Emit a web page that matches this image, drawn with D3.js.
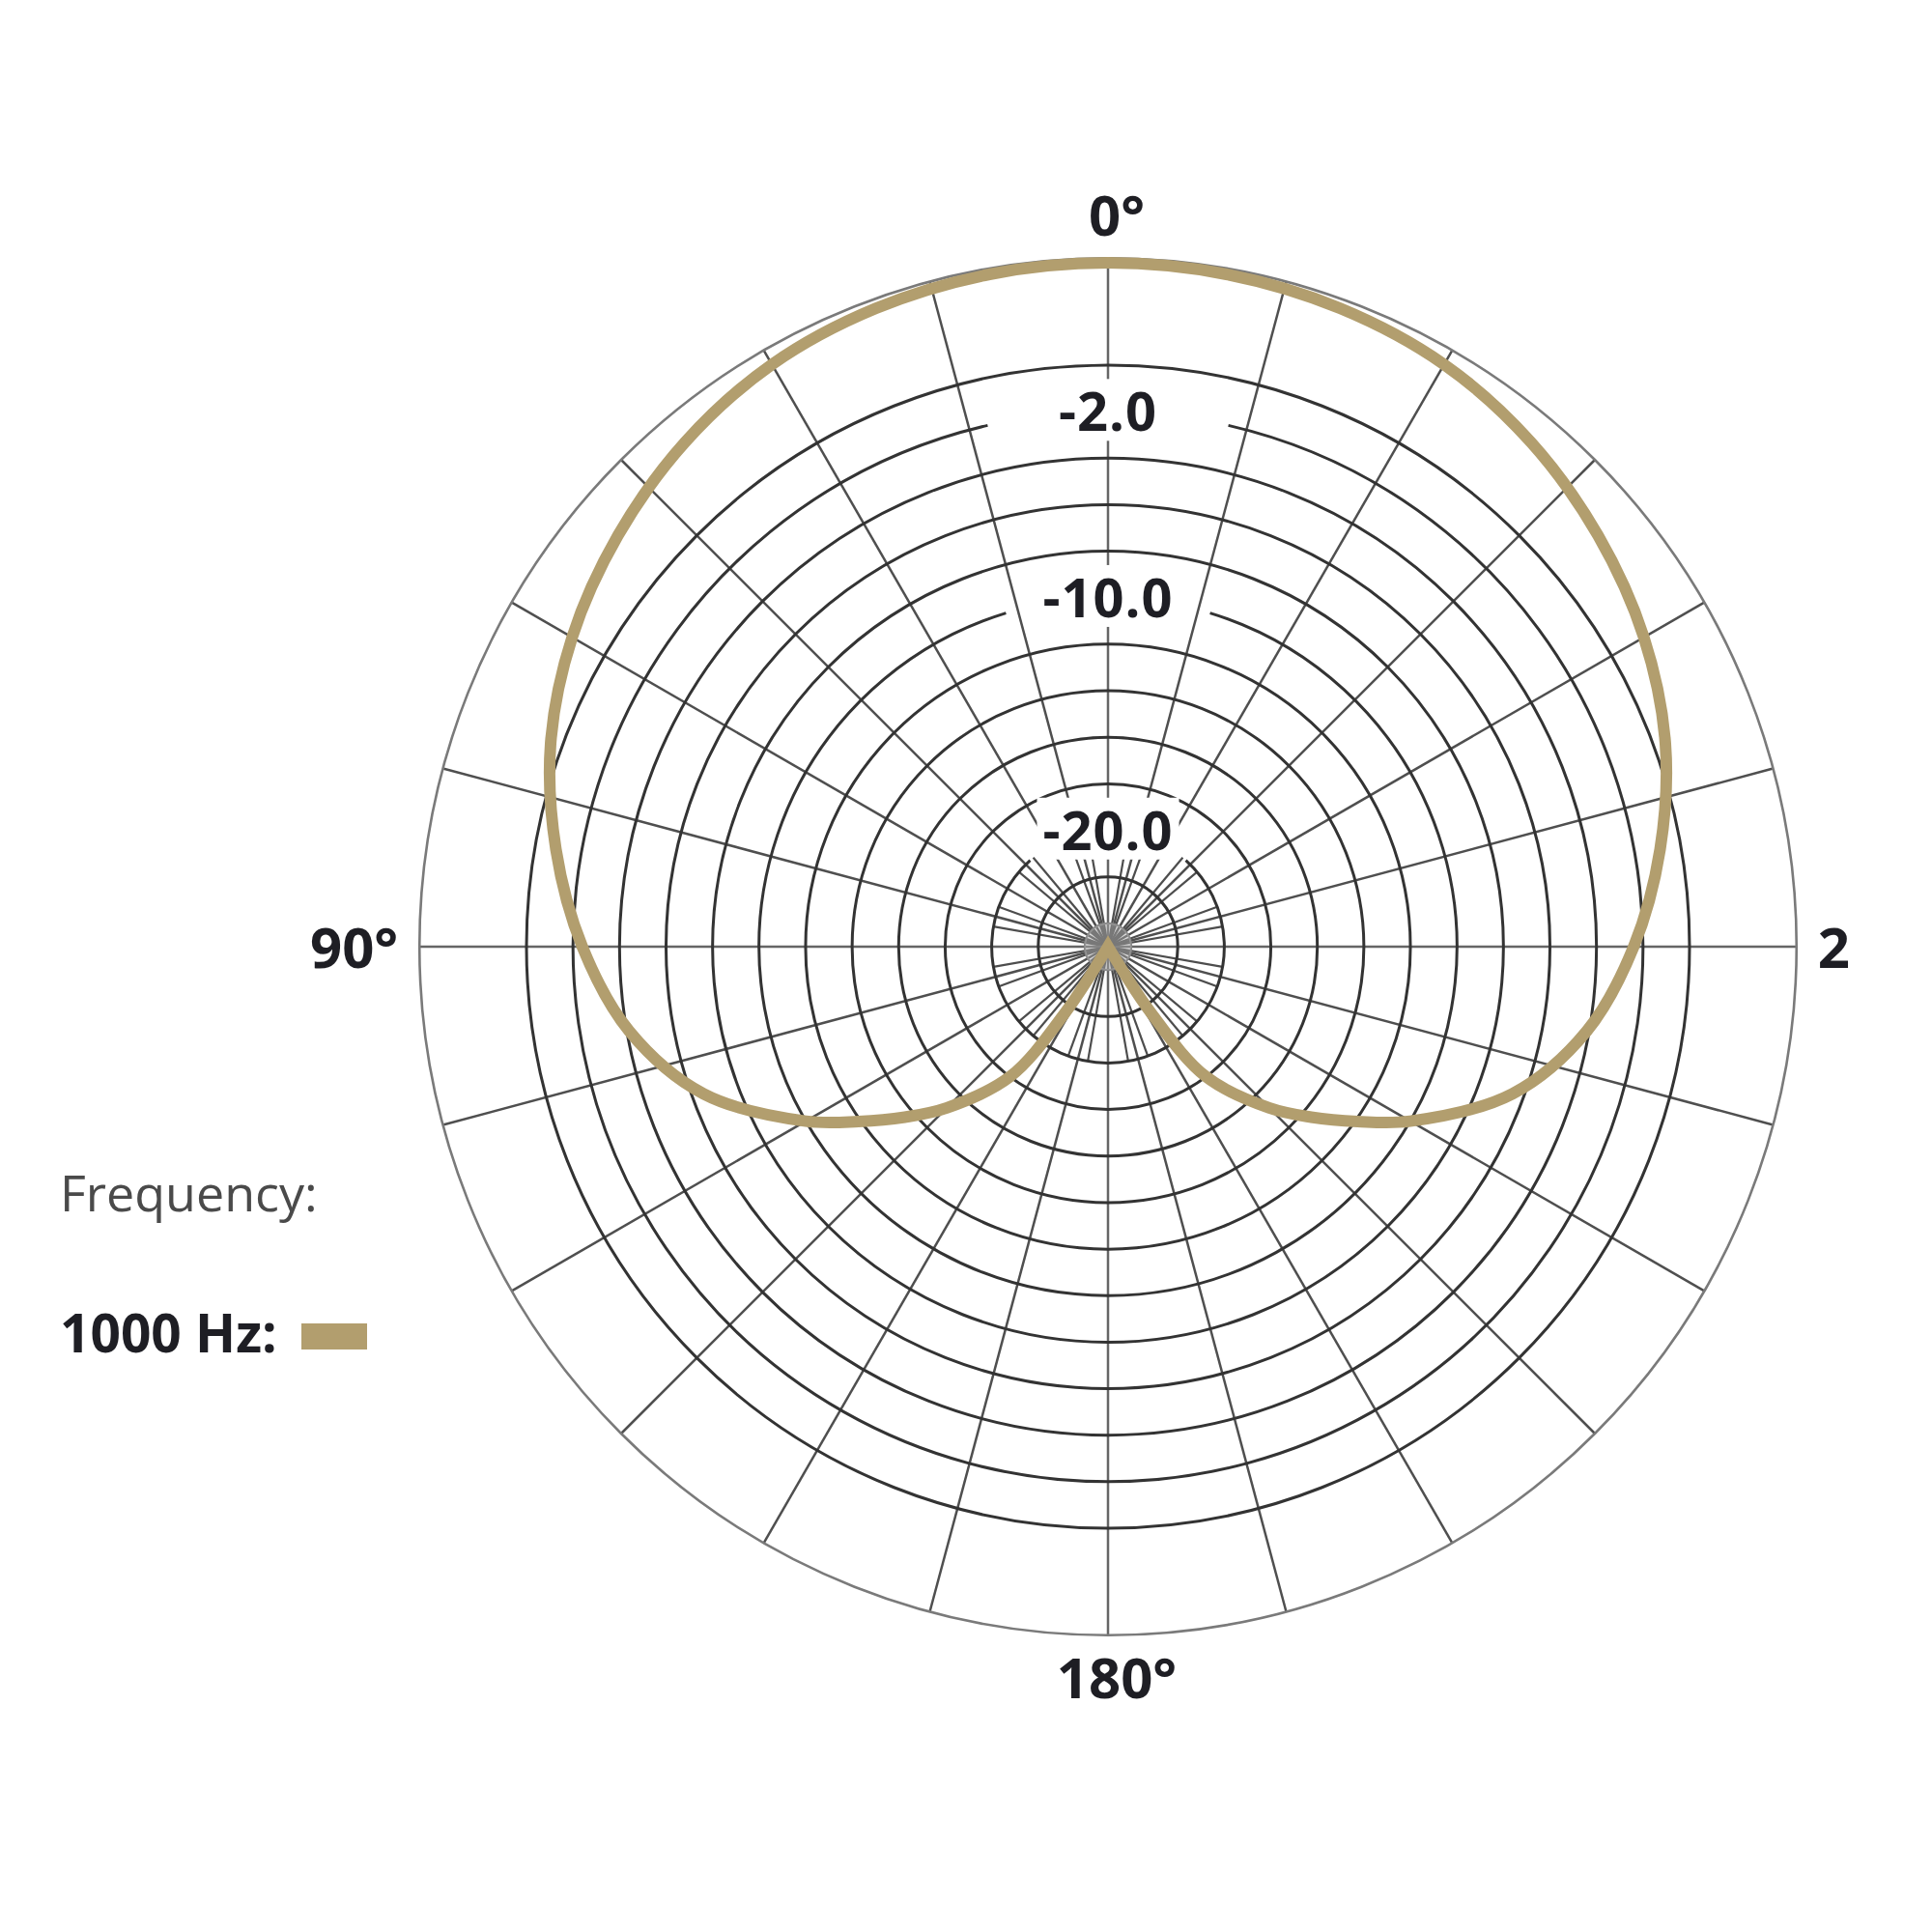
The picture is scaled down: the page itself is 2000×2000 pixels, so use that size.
<!DOCTYPE html>
<html><head><meta charset="utf-8">
<script src="https://cdn.jsdelivr.net/npm/d3@7"></script>
<style>body{margin:0;background:#fff}</style>
</head><body>
<svg id="chart" width="2000" height="2000"></svg>
<script>
// ---- data ----
const angleDeg = [0,10,20,30,40,50,60,70,80,90,100,110,120,125,130,135,143,147,180,
                  213,217,225,230,235,240,250,260,270,280,290,300,310,320,330,340,350];
const level1000 = [4.4,4.35,4.2,3.9,3.3,2.5,1.6,0.5,-0.9,-2.4,-4.1,-6.5,-10.0,-11.9,-13.6,-15.2,-18.0,-21.6,-25,
                   -21.6,-18.0,-15.2,-13.6,-11.9,-10.0,-6.5,-4.1,-2.4,-0.9,0.5,1.6,2.5,3.3,3.9,4.2,4.35];
const ringLevels = [-24,-22,-20,-18,-16,-14,-12,-10,-8,-6,-4,-2,0];
const outerLevel = 4.6;
const labeledRings = [-2,-10,-20];
const ringLabelText = ["-2.0","-10.0","-20.0"];
const angleTicks = [0,90,180,270];
const angleTickLabels = ["0°","90°","180°","2"];
const legendTitle = "Frequency:";
const seriesName = "1000 Hz:";

// ---- layout ----
const cx = 1147, cy = 980;
const svg = d3.select("#chart");
svg.append("rect").attr("width",2000).attr("height",2000).attr("fill","#fff");
const r = d3.scaleLinear().domain([-25,0]).range([0,602]);
const R = r(outerLevel);
const rad = d => d*Math.PI/180;
const px = (deg,rr) => cx - rr*Math.sin(rad(deg));
const py = (deg,rr) => cy - rr*Math.cos(rad(deg));

const grid = svg.append("g").attr("fill","none");

// spokes: full every 15 deg, inner every 10 deg
d3.range(0,360,10).filter(a => a%30!==0).forEach(a=>{
  grid.append("line").attr("x1",cx).attr("y1",cy)
    .attr("x2",px(a,r(-20))).attr("y2",py(a,r(-20)))
    .attr("stroke","#4d4d4d").attr("stroke-width",2.2);
});
d3.range(0,360,15).forEach(a=>{
  grid.append("line").attr("x1",cx).attr("y1",cy)
    .attr("x2",px(a,R)).attr("y2",py(a,R))
    .attr("stroke", a%90===0 ? "#666" : "#4f4f4f").attr("stroke-width",2.5);
});

// ring gaps for labelled rings (half-angle, degrees)
const gapHalf = {"-2":13, "-10":17, "-20":42};
ringLevels.forEach(lv=>{
  const rr = r(lv);
  const p = d3.path();
  const g = gapHalf[lv] ? rad(gapHalf[lv]) : 0;
  if (g>0) {
    p.arc(cx,cy,rr,-Math.PI/2+g, -Math.PI/2-g+2*Math.PI);
  } else {
    p.arc(cx,cy,rr,0,2*Math.PI);
  }
  grid.append("path").attr("d",p.toString())
    .attr("stroke", lv===-24 ? "#888" : "#333")
    .attr("stroke-width", lv===-24 ? 2.2 : 3);
});
grid.append("circle").attr("cx",cx).attr("cy",cy).attr("r",r(-24))
  .attr("fill","#aaa").attr("fill-opacity",0.45).attr("stroke","none");
grid.append("circle").attr("cx",cx).attr("cy",cy).attr("r",R)
  .attr("stroke","#7a7a7a").attr("stroke-width",2.6);

// ring labels
const font = "'Open Sans', 'Liberation Sans', sans-serif";
labeledRings.forEach((lv,i)=>{
  const y = cy - r(lv);
  const t = svg.append("text").attr("x",cx).attr("y",y).attr("dy","0.36em")
    .attr("text-anchor","middle").attr("font-family",font).attr("font-weight",700)
    .attr("font-size",56).attr("letter-spacing",1).attr("fill","#1e1e24").text(ringLabelText[i]);
  const bb = t.node().getBBox();
  svg.insert("rect","text").attr("x",bb.x-6).attr("y",bb.y+6).attr("width",bb.width+12).attr("height",bb.height-12).attr("fill","#fff");
});

// curve
const pts = angleDeg.map((a,i)=>({a, v:level1000[i]}));
const s = angleDeg.indexOf(180);
const ordered = pts.slice(s).concat(pts.slice(0,s)).concat([pts[s]]);
const line = d3.line().x(d=>px(d.a,r(d.v))).y(d=>py(d.a,r(d.v))).curve(d3.curveCatmullRom.alpha(0.5));
svg.append("path").attr("d", line(ordered)+"Z")
  .attr("fill","none").attr("stroke","#b29e6e").attr("stroke-width",12)
  .attr("stroke-linejoin","miter").attr("stroke-miterlimit",6);

// angle labels
const angleLab = svg.append("g").attr("font-family",font).attr("font-weight",700)
  .attr("font-size",58).attr("fill","#1e1e24");
const tickPos = [
  {x:cx+9, y:244, anchor:"middle"},
  {x:cx-R-22, y:1002, anchor:"end"},
  {x:cx+9, y:1758, anchor:"middle"},
  {x:cx+R+22, y:1002, anchor:"start"}
];
angleTicks.forEach((a,i)=>{
  angleLab.append("text").attr("x",tickPos[i].x).attr("y",tickPos[i].y)
    .attr("text-anchor",tickPos[i].anchor).text(angleTickLabels[i]);
});

// legend
svg.append("text").attr("x",62).attr("y",1254).attr("font-family",font)
  .attr("font-size",52).attr("fill","#4a4a4a").text(legendTitle);
svg.append("text").attr("x",62).attr("y",1400).attr("font-family",font).attr("font-weight",700)
  .attr("font-size",55).attr("fill","#1e1e24").text(seriesName);
svg.append("rect").attr("x",312).attr("y",1370).attr("width",68).attr("height",27).attr("fill","#b29e6e");
</script>
</body></html>
